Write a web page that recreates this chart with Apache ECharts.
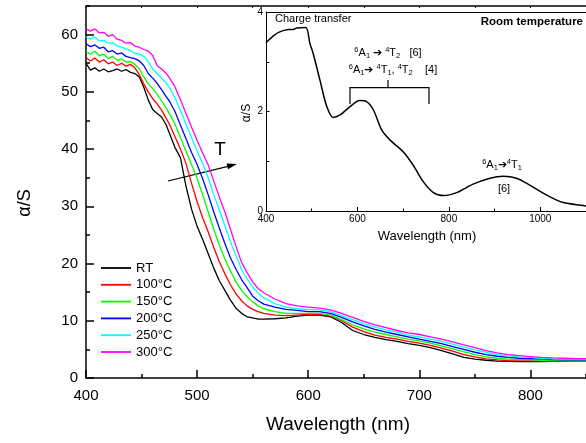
<!DOCTYPE html>
<html><head><meta charset="utf-8">
<script src="https://cdn.jsdelivr.net/npm/echarts@6/dist/echarts.min.js"></script>
<style>html,body{margin:0;padding:0;background:#fff}#c{width:586px;height:443px}</style>
</head><body><div id="c"></div>
<script>
// ---- main chart data ----
const wl = [400,404,408,412,416,420,424,428,432,436,440,444,448,452,456,460,464,468,472,
  475,480,485,490,495,500,505,510,515,520,525,530,535,540,545,550,555,560,
  570,580,590,600,610,620,630,640,650,660,670,680,690,700,710,720,730,740,750,760,770,780,790,800,810,820,830,840,850];
const rt = [55.0,53.8,54.2,53.6,54.0,53.5,53.7,54.0,53.6,53.9,53.4,53.2,52.6,50.8,48.6,46.9,46.2,45.6,44.3,
  42.8,40.3,38.5,33.5,29.5,26.5,24.2,21.7,19.2,17.0,15.3,13.6,12.2,11.3,10.7,10.5,10.3,10.3,
  10.35,10.5,10.8,11.0,11.0,10.7,9.7,8.3,7.6,7.1,6.7,6.4,6.0,5.7,5.3,4.8,4.2,3.6,3.3,3.1,2.95,2.9,2.85,2.85,2.85,2.9,2.95,3.0,3.0];
const t100 = [56.0,55.4,55.9,55.2,55.6,54.9,55.2,54.6,55.0,54.5,54.8,54.2,53.0,51.4,50.0,48.8,47.9,46.8,45.4,
  44.4,42.2,40.0,37.5,34.0,30.8,28.0,25.5,22.8,20.3,18.2,16.3,14.7,13.5,12.6,12.0,11.6,11.3,
  11.0,10.9,11.0,11.1,11.1,10.8,10.0,8.9,8.1,7.5,7.1,6.8,6.4,6.1,5.7,5.2,4.7,4.1,3.7,3.35,3.15,3.05,3.0,3.0,2.95,2.95,3.0,3.0,3.0];
const t150 = [57.0,56.6,57.1,56.3,56.6,55.8,56.2,55.5,55.8,55.2,55.3,54.8,54.0,52.6,51.4,50.6,49.6,48.4,47.2,
  46.2,44.4,42.0,39.6,37.3,34.9,32.0,29.0,26.0,23.2,20.8,18.7,16.8,15.3,14.2,13.3,12.6,12.1,
  11.6,11.3,11.3,11.3,11.3,11.0,10.2,9.3,8.6,8.0,7.6,7.2,6.8,6.5,6.1,5.6,5.1,4.6,4.1,3.7,3.45,3.3,3.2,3.2,3.1,3.05,3.05,3.05,3.05];
const t200 = [58.4,57.9,58.2,57.6,57.8,57.0,57.2,56.6,56.8,56.2,56.0,55.8,55.4,54.6,53.2,52.4,51.5,50.4,49.2,
  48.4,46.6,44.2,41.8,39.4,37.3,34.8,32.0,29.0,26.2,23.5,21.0,19.0,17.2,15.8,14.3,13.5,12.9,
  12.4,12.0,11.8,11.6,11.6,11.3,10.6,9.8,9.1,8.5,8.0,7.6,7.2,6.8,6.4,6.0,5.5,5.0,4.5,4.1,3.8,3.6,3.45,3.4,3.3,3.2,3.15,3.15,3.15];
const t250 = [59.6,59.2,59.6,58.9,59.0,58.5,58.6,58.0,57.8,57.5,57.2,56.7,56.6,56.2,55.3,54.0,53.2,52.4,51.6,
  50.8,49.0,46.7,44.4,42.0,39.7,37.5,35.0,32.0,29.4,26.6,23.8,21.4,19.0,17.3,15.9,14.8,14.0,
  13.0,12.4,12.1,12.0,11.9,11.6,10.9,10.2,9.5,8.9,8.4,8.0,7.5,7.2,6.8,6.4,5.9,5.4,4.9,4.5,4.1,3.85,3.7,3.6,3.45,3.35,3.3,3.3,3.3];
const t300 = [61.0,60.6,61.0,60.3,60.4,59.7,60.0,59.2,59.0,58.5,58.6,58.0,57.8,57.4,57.1,56.4,54.6,54.0,53.3,
  52.5,50.9,48.6,46.2,43.8,41.5,39.3,37.2,34.4,31.6,29.0,26.0,23.0,20.2,18.4,16.8,15.6,14.9,
  13.8,13.0,12.6,12.4,12.2,11.9,11.3,10.6,9.9,9.3,8.8,8.3,7.9,7.6,7.2,6.8,6.3,5.8,5.3,4.8,4.4,4.1,3.9,3.75,3.6,3.5,3.45,3.4,3.4];
const seriesNames = ['RT','100°C','150°C','200°C','250°C','300°C'];
const seriesColors = ['#000000','#ff0000','#00ff00','#0000ff','#00ffff','#ff00ff'];

// ---- inset data (room temperature) ----
const insetWl  = [400,416,430,449,460,467,487,496,503,518,533,547,562,584,605,620,635,653,671,700,722,744,766,788,817,853,890,919,948,977,1014,1050,1094,1100];
const insetVal = [3.38,3.52,3.60,3.65,3.65,3.68,3.69,3.37,3.17,2.63,2.10,1.88,1.93,2.10,2.22,2.20,2.03,1.63,1.43,1.19,0.92,0.59,0.37,0.31,0.37,0.54,0.66,0.70,0.66,0.52,0.32,0.17,0.11,0.10];

// ---- axis settings ----
const mainX = {min: 400, max: 850, major: 100, minor: 50};
const mainY = {min: 0, max: 65, major: 10, minor: 5};
const insetX = {min: 400, max: 1100, major: 200, minor: 100};
const insetY = {min: 0, max: 4, major: 2, minor: 1};

const F = "'Liberation Sans', Arial, Helvetica, sans-serif";
const chart = echarts.init(document.getElementById('c'));

const mainData = [rt, t100, t150, t200, t250, t300];
const series = mainData.map((vals, i) => ({
  name: seriesNames[i], type: 'line', xAxisIndex: 0, yAxisIndex: 0,
  data: wl.map((w, j) => [w, vals[j]]),
  symbol: 'none', showSymbol: false,
  lineStyle: {color: seriesColors[i], width: 1.3},
  itemStyle: {color: seriesColors[i]}
}));
series.push({
  type: 'line', xAxisIndex: 3, yAxisIndex: 2,
  data: insetWl.map((w, j) => [w, insetVal[j]]),
  smooth: 0.3, symbol: 'none', showSymbol: false,
  lineStyle: {color: '#000', width: 1.5}
});

const thick = {show: true, onZero: false, lineStyle: {color: '#000', width: 1.5}};
const thin = {show: true, onZero: false, lineStyle: {color: '#000', width: 1}};
const noLine = {show: false, onZero: false};
const tick = (len, w) => ({show: true, inside: true, length: len, lineStyle: {color: '#000', width: w}});
const noSplit = {show: false};

const rich = {
  b: {fontSize: 11, fontFamily: F, color: '#000', lineHeight: 14},
  sup: {fontSize: 7.5, fontFamily: F, color: '#000', lineHeight: 7, verticalAlign: 'top'},
  sub: {fontSize: 7.5, fontFamily: F, color: '#000', lineHeight: 7, verticalAlign: 'bottom'}
};

chart.setOption({
  animation: false,
  backgroundColor: '#fff',
  grid: [
    {left: 86, top: 6, width: 504, height: 372, show: false},
    {left: 266, top: 12, width: 320, height: 199, show: false}
  ],
  xAxis: [
    {gridIndex: 0, type: 'value', position: 'bottom', min: mainX.min, max: mainX.max, interval: mainX.major,
     axisLine: thick, axisTick: tick(8, 1.5), splitLine: noSplit,
     axisLabel: {fontSize: 15, color: '#000', fontFamily: F, margin: 10, showMaxLabel: false}},
    {gridIndex: 0, type: 'value', position: 'bottom', min: mainX.min, max: mainX.max, interval: mainX.minor,
     axisLine: noLine, axisTick: tick(4, 1.5), splitLine: noSplit, axisLabel: {show: false}},
    {gridIndex: 0, type: 'value', position: 'top', min: mainX.min, max: mainX.max, interval: mainX.minor,
     axisLine: thick, axisTick: tick(2, 1), splitLine: noSplit, axisLabel: {show: false}},
    {gridIndex: 1, type: 'value', position: 'bottom', min: insetX.min, max: insetX.max, interval: insetX.major,
     axisLine: thin, axisTick: tick(4, 1), splitLine: noSplit,
     axisLabel: {fontSize: 10, color: '#000', fontFamily: F, margin: 3, showMaxLabel: false,
       formatter: v => String(v)}},
    {gridIndex: 1, type: 'value', position: 'bottom', min: insetX.min, max: insetX.max, interval: insetX.minor,
     axisLine: noLine, axisTick: tick(2.5, 1), splitLine: noSplit, axisLabel: {show: false}},
    {gridIndex: 1, type: 'value', position: 'top', min: insetX.min, max: insetX.max, interval: insetX.major,
     axisLine: thin, axisTick: {show: false}, splitLine: noSplit, axisLabel: {show: false}}
  ],
  yAxis: [
    {gridIndex: 0, type: 'value', position: 'left', min: mainY.min, max: mainY.max, interval: mainY.major,
     axisLine: thick, axisTick: tick(8, 1.5), splitLine: noSplit,
     axisLabel: {fontSize: 15, color: '#000', fontFamily: F, margin: 8, showMaxLabel: false}},
    {gridIndex: 0, type: 'value', position: 'left', min: mainY.min, max: mainY.max, interval: mainY.minor,
     axisLine: noLine, axisTick: tick(4, 1.5), splitLine: noSplit, axisLabel: {show: false}},
    {gridIndex: 1, type: 'value', position: 'left', min: insetY.min, max: insetY.max, interval: insetY.minor,
     axisLine: thin, axisTick: tick(3.5, 1), splitLine: noSplit,
     axisLabel: {fontSize: 10, color: '#000', fontFamily: F, margin: 3,
       formatter: v => (v % insetY.major === 0 ? String(v) : '')}}
  ],
  legend: {
    data: seriesNames.map((n, i) => ({name: n, icon: 'rect', itemStyle: {color: seriesColors[i]}})),
    orient: 'vertical', left: 101, top: 260.5, padding: 0,
    itemWidth: 30, itemHeight: 1.8, itemGap: 1.8,
    textStyle: {fontSize: 13, fontFamily: F, color: '#000', lineHeight: 15}
  },
  series: series,
  graphic: [
    {type: 'text', x: 25, y: 203, rotation: Math.PI / 2,
     style: {text: 'α/S', font: `18px ${F}`, fill: '#000', align: 'center', verticalAlign: 'middle'}},
    {type: 'text', x: 338, y: 425,
     style: {text: 'Wavelength (nm)', font: `19px ${F}`, fill: '#000', align: 'center', verticalAlign: 'middle'}},
    {type: 'text', x: 220, y: 150,
     style: {text: 'T', font: `19px ${F}`, fill: '#000', align: 'center', verticalAlign: 'middle'}},
    {type: 'line', shape: {x1: 168, y1: 181, x2: 228, y2: 166.3}, style: {stroke: '#000', lineWidth: 1.2}},
    {type: 'polygon', shape: {points: [[237, 164], [228.0, 169.3], [226.6, 163.5]]}, style: {fill: '#000'}},
    // inset annotations
    {type: 'text', x: 247, y: 113, rotation: Math.PI / 2,
     style: {text: 'α/S', font: `12px ${F}`, fill: '#000', align: 'center', verticalAlign: 'middle'}},
    {type: 'text', x: 427, y: 236,
     style: {text: 'Wavelength (nm)', font: `13px ${F}`, fill: '#000', align: 'center', verticalAlign: 'middle'}},
    {type: 'text', x: 275, y: 19,
     style: {text: 'Charge transfer', font: `11px ${F}`, fill: '#000', align: 'left', verticalAlign: 'middle'}},
    {type: 'text', x: 583, y: 22,
     style: {text: 'Room temperature', font: `bold 11.5px ${F}`, fill: '#000', align: 'right', verticalAlign: 'middle'}},
    {type: 'text', x: 388, y: 53,
     style: {text: '{sup|6}{b|A}{sub|1}{b| ➔ }{sup|4}{b|T}{sub|2}{b|   [6]}', rich: rich, align: 'center', verticalAlign: 'middle'}},
    {type: 'text', x: 393, y: 70,
     style: {text: '{sup|6}{b|A}{sub|1}{b|➔ }{sup|4}{b|T}{sub|1}{b|, }{sup|4}{b|T}{sub|2}{b|    [4]}', rich: rich, align: 'center', verticalAlign: 'middle'}},
    {type: 'text', x: 502, y: 165,
     style: {text: '{sup|6}{b|A}{sub|1}{b|➔}{sup|4}{b|T}{sub|1}', rich: rich, align: 'center', verticalAlign: 'middle'}},
    {type: 'text', x: 504, y: 189,
     style: {text: '[6]', font: `11px ${F}`, fill: '#000', align: 'center', verticalAlign: 'middle'}},
    {type: 'polyline', shape: {points: [[350, 104], [350, 87.7], [429, 87.7], [429, 104]]},
     style: {stroke: '#000', lineWidth: 1.2, fill: null}},
    {type: 'line', shape: {x1: 388, y1: 80, x2: 388, y2: 87.7}, style: {stroke: '#000', lineWidth: 1.2}}
  ]
});
</script>
</body></html>
